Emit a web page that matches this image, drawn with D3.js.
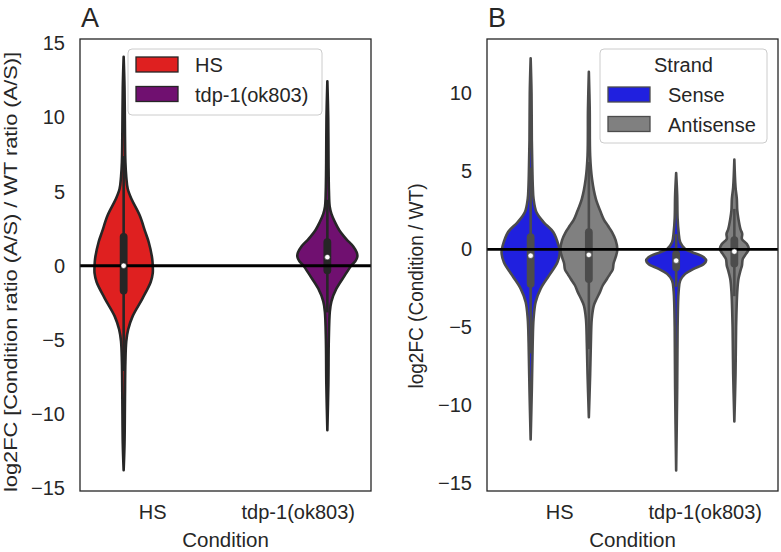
<!DOCTYPE html>
<html><head><meta charset="utf-8">
<script src="https://cdn.jsdelivr.net/npm/d3@7"></script>
<style>
body{margin:0;background:#fff}
text{font-family:"Liberation Sans", Arial, Helvetica, sans-serif; fill:#262626}
</style>
</head><body>
<svg id="chart" width="781" height="552"></svg>
<script>
// ---------------- DATA ----------------
const conditions = ["HS", "tdp-1(ok803)"];
const huesA = ["HS", "tdp-1(ok803)"];
const strands = ["Sense", "Antisense"];
const yTicksA = [-15, -10, -5, 0, 5, 10, 15];
const yTicksB = [-15, -10, -5, 0, 5, 10];
const yDomainA = [-15.2, 15.3];
const yDomainB = [-15.5, 13.5];

// violin density profiles (value grid, relative density: 1 = widest)
const hsA_vals = [14.1, 12, 9, 7, 6, 5.2, 4.5, 3.4, 2.3, 1.6, 0.5, 0, -0.5, -1.1, -2.2, -3.4, -4.3, -5.1, -6.5, -9, -12, -13.8];
const hsA_dens = [0, .03, .045, .06, .09, .14, .27, .55, .74, .86, .98, 1.0, 1.0, .93, .65, .31, .155, .09, .06, .045, .03, 0];

const tdpA_vals = [12.45, 10, 7, 5, 4, 3.5, 2.95, 2.4, 1.8, 1.3, 0.9, 0.6, 0.3, 0, -0.65, -1.55, -2.4, -3.1, -5, -8, -11.1];
const tdpA_dens = [0, .03, .04, .055, .08, .14, .26, .41, .65, .89, 1.01, 1.03, .96, .82, .6, .31, .14, .085, .05, .035, 0];

const hsSense_vals = [12.26, 10, 7, 5, 4, 3.24, 2.38, 1.74, 1.1, 0.24, -0.18, -0.82, -1.68, -2.53, -3.38, -4.45, -6, -9, -12.19];
const hsSense_dens = [0, .03, .04, .06, .075, .1, .2, .45, .78, .96, 1.0, .92, .63, .34, .17, .1, .07, .04, 0];

const hsAnti_vals = [11.4, 9, 6, 4.5, 3.24, 2.38, 1.9, 1.53, 1.1, 0.6, 0, -0.5, -0.9, -1.3, -1.6, -1.9, -2.3, -2.74, -3.2, -3.6, -4.45, -6, -8, -10.76];
const hsAnti_dens = [0, .03, .045, .11, .24, .41, .52, .65, .8, .92, .98, .92, .85, .82, .72, .62, .48, .38, .26, .17, .1, .07, .045, 0];

const tdpSense_vals = [4.9, 3.5, 2, 1.1, 0.46, 0.03, -0.18, -0.5, -0.72, -0.93, -1.25, -1.57, -2.0, -2.7, -5, -9, -14.18];
const tdpSense_dens = [0, .035, .05, .085, .14, .31, .55, .95, 1.03, .95, .6, .31, .14, .085, .05, .035, 0];

const tdpAnti_vals = [5.76, 4, 3.24, 2.5, 1.96, 1.3, 1.0, 0.67, 0.35, 0.03, -0.29, -0.61, -1.04, -1.36, -1.9, -2.7, -5, -8, -11.04];
const tdpAnti_dens = [0, .04, .085, .1, .14, .21, .27, .26, .43, .5, .4, .29, .26, .21, .14, .1, .06, .04, 0];

// box stats: [whiskerLo, q1, median, q3, whiskerHi]
const hsA_box = [-7.1, -1.67, 0, 1.95, 7.4];
const tdpA_box = [-3.15, -0.3, 0.58, 1.6, 4.45];
const hsSense_box = [-6.67, -2.2, -0.4, 0.78, 5.25];
const hsAnti_box = [-6.4, -1.9, -0.35, 1.1, 5.6];
const tdpSense_box = [-2.4, -1.15, -0.72, -0.3, 0.98];
const tdpAnti_box = [-3.0, -0.9, -0.14, 0.6, 2.6];

const colorsA = ["#df2020", "#701070"];
const colorsB = ["#2020df", "#808080"];

// ---------------- DRAW ----------------
const svg = d3.select("#chart");
const plotTop = 39, plotBottom = 491;
const LW = 2.6;

function zip(vals, dens) { return vals.map((v, i) => ({v: v, d: dens[i]})); }

function panel(opts) {
  const g = svg.append("g");
  const x = d3.scaleBand().domain(conditions).range([opts.left, opts.right]).padding(0);
  const hx = d3.scaleBand().domain(opts.hues).range([-0.4 * x.bandwidth(), 0.4 * x.bandwidth()]);
  const y = d3.scaleLinear().domain(opts.yDomain).range([plotBottom, plotTop]);
  const w = d3.scaleLinear().domain([0, 1]).range([0, hx.bandwidth() / 2]);

  const violins = opts.violins;
  violins.forEach(vi => {
    const cx = x(vi.cond) + x.bandwidth() / 2 + hx(vi.hue) + hx.bandwidth() / 2;
    const pts = zip(vi.vals, vi.dens);
    const area = d3.area()
      .y(d => y(d.v))
      .x0(d => cx - w(d.d))
      .x1(d => cx + w(d.d))
      .curve(d3.curveCatmullRom.alpha(0.5));
    g.append("path").attr("d", area(pts))
      .attr("fill", vi.color).attr("stroke", opts.gray)
      .attr("stroke-width", LW).attr("stroke-linejoin", "round");
    const b = vi.box;
    g.append("line").attr("x1", cx).attr("x2", cx).attr("y1", y(b[0])).attr("y2", y(b[4]))
      .attr("stroke", opts.gray).attr("stroke-width", LW);
    g.append("line").attr("x1", cx).attr("x2", cx).attr("y1", y(b[1])).attr("y2", y(b[3]))
      .attr("stroke", opts.gray).attr("stroke-width", LW * 3).attr("stroke-linecap", "round");
    vi.cx = cx;
  });

  // zero line
  g.append("line").attr("x1", opts.left).attr("x2", opts.right)
    .attr("y1", y(0)).attr("y2", y(0)).attr("stroke", "#000").attr("stroke-width", 2.8);

  violins.forEach(vi => {
    g.append("circle").attr("cx", vi.cx).attr("cy", y(vi.box[2])).attr("r", 2.7)
      .attr("fill", "#fff").attr("stroke", opts.gray).attr("stroke-width", 0.6);
  });

  // frame
  g.append("rect").attr("x", opts.left).attr("y", plotTop)
    .attr("width", opts.right - opts.left).attr("height", plotBottom - plotTop)
    .attr("fill", "none").attr("stroke", "#262626").attr("stroke-width", 1.3);

  // y axis (no tick marks)
  const ya = d3.axisLeft(y).tickValues(opts.yTicks).tickSize(0).tickPadding(15)
    .tickFormat(d => d < 0 ? "\u2212" + Math.abs(d) : String(d));
  const yg = g.append("g").attr("transform", `translate(${opts.left},0)`).call(ya);
  yg.select(".domain").remove();
  yg.selectAll("text").style("font-size", "20px").attr("fill", "#262626");

  // x axis
  const xa = d3.axisBottom(x).tickSize(0).tickPadding(14);
  const xg = g.append("g").attr("transform", `translate(0,${plotBottom})`).call(xa);
  xg.select(".domain").remove();
  xg.selectAll("text").style("font-size", "20px").attr("fill", "#262626");

  // labels
  g.append("text").attr("x", (opts.left + opts.right) / 2).attr("y", 547)
    .attr("text-anchor", "middle").style("font-size", "20.5px").text("Condition");
  g.append("text").attr("transform", `translate(${opts.ylabX},${opts.ylabY}) rotate(-90)`)
    .attr("text-anchor", "middle").style("font-size", opts.ylabSize + "px")
    .attr("textLength", opts.ylabLen).attr("lengthAdjust", "spacingAndGlyphs")
    .text(opts.ylabel);
  g.append("text").attr("x", opts.left + 1).attr("y", 27).style("font-size", "27px").text(opts.title);

  // legend
  const L = opts.legend;
  g.append("rect").attr("x", L.x).attr("y", L.y).attr("width", L.w).attr("height", L.h)
    .attr("rx", 4).attr("fill", "#fff").attr("fill-opacity", 0.8)
    .attr("stroke", "#cccccc").attr("stroke-width", 1);
  let yy = L.y + 8;
  if (L.title) {
    g.append("text").attr("x", L.x + L.w / 2).attr("y", L.y + 23).attr("text-anchor", "middle")
      .style("font-size", "20px").text(L.title);
    yy = L.y + 38;
  }
  L.labels.forEach((lab, i) => {
    const ry = yy + i * 29.5;
    g.append("rect").attr("x", L.x + 8).attr("y", ry).attr("width", 42).attr("height", 15)
      .attr("fill", L.colors[i]).attr("stroke", opts.gray).attr("stroke-width", 1.3);
    g.append("text").attr("x", L.x + L.tx).attr("y", ry + 15).style("font-size", "20px").text(lab);
  });
}

panel({
  left: 80, right: 371, yDomain: yDomainA, yTicks: yTicksA, hues: huesA, gray: "#262626",
  title: "A", ylabel: "log2FC [Condition ratio (A/S) / WT ratio (A/S)]", ylabX: 16.5, ylabY: 272, ylabLen: 440, ylabSize: 18,
  violins: [
    {cond: conditions[0], hue: huesA[0], vals: hsA_vals, dens: hsA_dens, box: hsA_box, color: colorsA[0]},
    {cond: conditions[1], hue: huesA[1], vals: tdpA_vals, dens: tdpA_dens, box: tdpA_box, color: colorsA[1]}
  ],
  legend: {x: 128, y: 49, w: 194, h: 66, title: null, labels: huesA, colors: colorsA, tx: 67}
});

panel({
  left: 487, right: 778, yDomain: yDomainB, yTicks: yTicksB, hues: strands, gray: "#4c4c4c",
  title: "B", ylabel: "log2FC (Condition / WT)", ylabX: 423, ylabY: 286, ylabLen: 205, ylabSize: 20,
  violins: [
    {cond: conditions[0], hue: strands[0], vals: hsSense_vals, dens: hsSense_dens, box: hsSense_box, color: colorsB[0]},
    {cond: conditions[0], hue: strands[1], vals: hsAnti_vals, dens: hsAnti_dens, box: hsAnti_box, color: colorsB[1]},
    {cond: conditions[1], hue: strands[0], vals: tdpSense_vals, dens: tdpSense_dens, box: tdpSense_box, color: colorsB[0]},
    {cond: conditions[1], hue: strands[1], vals: tdpAnti_vals, dens: tdpAnti_dens, box: tdpAnti_box, color: colorsB[1]}
  ],
  legend: {x: 600, y: 49, w: 167, h: 94, title: "Strand", labels: strands, colors: colorsB, tx: 68}
});
</script>
</body></html>
